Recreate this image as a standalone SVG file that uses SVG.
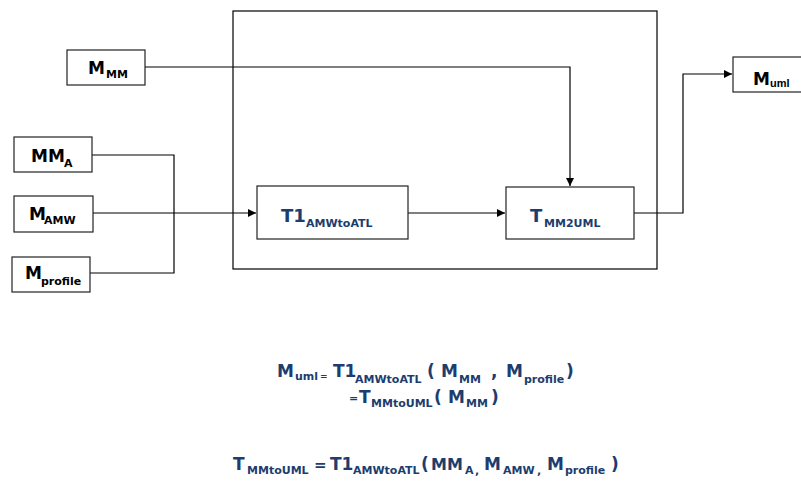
<svg xmlns="http://www.w3.org/2000/svg" width="801" height="486" viewBox="0 0 801 486">
<style>
.box{fill:#fff;stroke:#222;stroke-width:1.2}
.ln{fill:none;stroke:#000;stroke-width:1.2}
.t{font-family:"DejaVu Sans",sans-serif;font-weight:bold}
.k{fill:#000}
.n{fill:#1c3d6e}
.b{font-size:17px}
.s{font-size:11px}
</style>
<defs>
<marker id="ah" viewBox="0 0 10 10" refX="10" refY="5" markerWidth="8" markerHeight="8" markerUnits="userSpaceOnUse" orient="auto">
<path d="M0,0 L10,5 L0,10 z" fill="#000"/>
</marker>
</defs>
<rect width="801" height="486" fill="#fff"/>
<g id="container"><rect x="233" y="11" width="424" height="258" fill="none" stroke="#000" stroke-width="1.2"/></g>
<g id="connectors">
<polyline class="ln" points="92,155 174,155 174,273 90,273"/>
<polyline class="ln" points="93,213 256,213" marker-end="url(#ah)"/>
<polyline class="ln" points="145,67 570,67 570,186" marker-end="url(#ah)"/>
<polyline class="ln" points="408,213 505,213" marker-end="url(#ah)"/>
<polyline class="ln" points="634,213 683,213 683,74 732,74" marker-end="url(#ah)"/>
</g>
<g id="M_MM"><rect class="box" x="67" y="50" width="78" height="35"/>
<text class="t k"><tspan class="b" x="88" y="74">M</tspan><tspan class="s" x="106" y="78">MM</tspan></text></g>
<g id="MM_A"><rect class="box" x="14" y="137" width="78" height="35"/>
<text class="t k"><tspan class="b" x="31" y="162">MM</tspan><tspan class="s" x="64" y="167">A</tspan></text></g>
<g id="M_AMW"><rect class="box" x="14" y="196" width="79" height="36"/>
<text class="t k"><tspan class="b" x="29" y="220">M</tspan><tspan class="s" x="44" y="224">AMW</tspan></text></g>
<g id="M_profile"><rect class="box" x="12" y="257" width="78" height="35"/>
<text class="t k"><tspan class="b" x="25" y="279">M</tspan><tspan class="s" x="41" y="285">profile</tspan></text></g>
<g id="T1"><rect class="box" x="257" y="186" width="151" height="53"/>
<text class="t n"><tspan style="font-size:18px" x="281" y="222">T1</tspan><tspan class="s" x="306" y="227">AMWtoATL</tspan></text></g>
<g id="T_MM2UML"><rect class="box" x="506" y="187" width="128" height="52"/>
<text class="t n"><tspan style="font-size:18px" x="530" y="222">T</tspan><tspan class="s" x="544" y="227">MM2UML</tspan></text></g>
<g id="M_uml"><rect class="box" x="733" y="57" width="70" height="35"/>
<text class="t k"><tspan class="b" x="753" y="85">M</tspan><tspan x="770" y="87" style="font-size:11px;font-family:'Liberation Sans',sans-serif">uml</tspan></text></g>
<g id="formulas" class="t n">
<text><tspan class="b" x="277" y="377">M</tspan><tspan class="s" x="295" y="380">uml</tspan><tspan style="font-size:9px" x="320" y="379">=</tspan><tspan class="b" x="333" y="377">T1</tspan><tspan class="s" x="355" y="383">AMWtoATL</tspan><tspan class="b" x="427" y="377">(</tspan><tspan class="b" x="441" y="377">M</tspan><tspan class="s" x="459" y="383">MM</tspan><tspan class="b" x="491" y="377">,</tspan><tspan class="b" x="506" y="377">M</tspan><tspan class="s" x="524" y="383">profile</tspan><tspan class="b" x="566" y="377">)</tspan></text>
<text><tspan style="font-size:11px" x="349" y="402">=</tspan><tspan class="b" x="359" y="403">T</tspan><tspan class="s" x="371" y="407">MMtoUML</tspan><tspan class="b" x="434" y="403">(</tspan><tspan class="b" x="448" y="403">M</tspan><tspan class="s" x="466" y="407">MM</tspan><tspan class="b" x="491" y="403">)</tspan></text>
<text><tspan class="b" x="233" y="470">T</tspan><tspan class="s" x="247" y="474">MMtoUML</tspan><tspan style="font-size:15px" x="314" y="470">=</tspan><tspan class="b" x="330" y="470">T1</tspan><tspan class="s" x="353" y="474">AMWtoATL</tspan><tspan class="b" x="421" y="470">(</tspan><tspan style="font-size:16px" x="431" y="470">MM</tspan><tspan class="s" x="465" y="474">A</tspan><tspan class="b" x="475" y="474" style="font-size:11px">,</tspan><tspan class="b" x="484" y="470">M</tspan><tspan class="s" x="503" y="474">AMW</tspan><tspan class="b" x="537" y="474" style="font-size:11px">,</tspan><tspan class="b" x="547" y="470">M</tspan><tspan class="s" x="565" y="474">profile</tspan><tspan class="b" x="611" y="470">)</tspan></text>
</g>
</svg>
